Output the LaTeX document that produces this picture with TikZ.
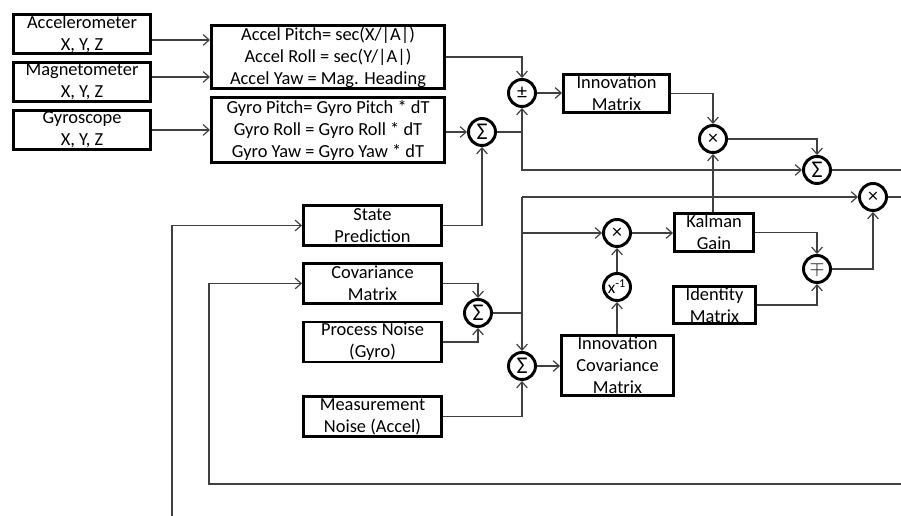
\documentclass[tikz,border=0pt]{standalone}
\usepackage{fontspec}
\setmainfont{Carlito}
\usetikzlibrary{arrows.meta,positioning}

\begin{document}
\begin{tikzpicture}[x=0.75pt,y=-0.75pt,
  blk/.style={draw,line width=2.2pt,inner sep=0pt,align=center,
    font=\fontsize{13.8}{16.5}\selectfont},
  op/.style={draw,circle,line width=2.2pt,minimum size=20.25pt,inner sep=0pt,
    font=\fontsize{15}{15}\selectfont},
  ln/.style={draw=black!75,line width=0.9pt},
  arr/.style={ln,-{Straight Barb[length=4.5pt,width=8pt]}}]
\useasboundingbox (0,0) rectangle (901,516);
% sensors
\node[blk,minimum width=102.75pt,minimum height=29.25pt] (acc) at (82,34) {Accelerometer\\X, Y, Z};
\node[blk,minimum width=102.75pt,minimum height=29.25pt] (mag) at (82,82) {Magnetometer\\X, Y, Z};
\node[blk,minimum width=102.75pt,minimum height=29.25pt] (gyr) at (82,130) {Gyroscope\\X, Y, Z};
% angle estimates
\node[blk,minimum width=174.75pt,minimum height=47.25pt] (accang) at (328,57)
  {Accel Pitch= sec(X/|A|)\\Accel Roll = sec(Y/|A|)\\Accel Yaw = Mag. Heading};
\node[blk,minimum width=174.75pt,minimum height=48.75pt] (gyrang) at (328,130)
  {Gyro Pitch= Gyro Pitch * dT\\Gyro Roll = Gyro Roll * dT\\Gyro Yaw = Gyro Yaw * dT};
% filter blocks
\node[blk,minimum width=103.5pt,minimum height=30pt] (state) at (372.5,225.5) {State\\Prediction};
\node[blk,minimum width=103.5pt,minimum height=30pt] (cov) at (372.5,283.5) {Covariance\\Matrix};
\node[blk,minimum width=103.5pt,minimum height=30pt] (pnoise) at (372.5,342) {Process Noise\\(Gyro)};
\node[blk,minimum width=103.5pt,minimum height=30pt] (mnoise) at (372.5,416.5) {Measurement\\Noise (Accel)};
\node[blk,minimum width=79.5pt,minimum height=28.5pt] (innov) at (616.5,93.5) {Innovation\\Matrix};
\node[blk,minimum width=59.25pt,minimum height=28.5pt] (kgain) at (714,232.5) {Kalman\\Gain};
\node[blk,minimum width=61.5pt,minimum height=27.75pt] (ident) at (714.5,305) {Identity\\Matrix};
\node[blk,minimum width=84pt,minimum height=45pt] (icov) at (617.5,365.5) {Innovation\\Covariance\\Matrix};
% operators
\node[op] (pm) at (522,93) {±};
\node[op] (sgyr) at (482,132) {\fontsize{18}{18}\selectfont Σ};
\node[op] (mul1) at (713,139) {×};
\node[op] (sout) at (817,170) {\fontsize{18}{18}\selectfont Σ};
\node[op] (mul3) at (873,197) {×};
\node[op] (scov) at (478,313) {\fontsize{18}{18}\selectfont Σ};
\node[op] (sinn) at (522,366) {\fontsize{18}{18}\selectfont Σ};
\node[op] (mul2) at (617,233) {×};
\node[op] (inv) at (617,287) {\fontsize{13}{13}\selectfont x\textsuperscript{-1}};
\node[op] (mp) at (817,269) {$\mp$};
% free ends
\coordinate (rt) at (901,0);
\coordinate (fb) at (172,516);
\coordinate (loopr) at (901,484);
\coordinate (loopl) at (209,484);
\coordinate (jt) at (522,197);

\draw[arr] ([yshift=-4.5pt]acc.east) coordinate (a1) -- (a1 -| accang.west);
\draw[arr] ([yshift=3.75pt]mag.east) coordinate (a2) -- (a2 -| accang.west);
\draw[arr] (gyr.east) -- (gyr.east -| gyrang.west);
\draw[arr] (accang) -| (pm);
\draw[arr] (pm) -- (pm -| innov.west);
\draw[arr] (gyrang.east |- sgyr) -- (sgyr);
\draw[arr] (sgyr) -| (pm);
\draw[arr] (sgyr -| pm) |- (sout);
\draw[arr] (innov) -| (mul1);
\draw[arr] (mul1) -| (sout);
\draw[ln] (sout) -- (sout -| rt);
\draw[arr] (kgain.north -| mul1) -- (mul1);
\draw[arr] (state) -| (sgyr);
\draw[arr] (fb) |- (state);
\draw[arr] (loopr) -- (loopl) |- (cov);
\draw[arr] (cov) -| (scov);
\draw[arr] (pnoise) -| (scov);
\draw[ln,line width=1.4pt] (scov) -- (scov -| jt);
\draw[arr] (jt) -- (mul3);
\draw[arr] (jt) -- (sinn);
\draw[arr] (jt |- mul2) -- (mul2);
\draw[arr] (mnoise) -| (sinn);
\draw[arr] (sinn) -- (sinn -| icov.west);
\draw[arr] (icov.north -| inv) -- (inv);
\draw[arr] (inv) -- (mul2);
\draw[arr] (mul2) -- (mul2 -| kgain.west);
\draw[arr] (kgain) -| (mp);
\draw[arr] (ident) -| (mp);
\draw[arr] (mp) -| (mul3);
\draw[ln] (mul3) -- (mul3 -| rt);
\end{tikzpicture}
\end{document}
